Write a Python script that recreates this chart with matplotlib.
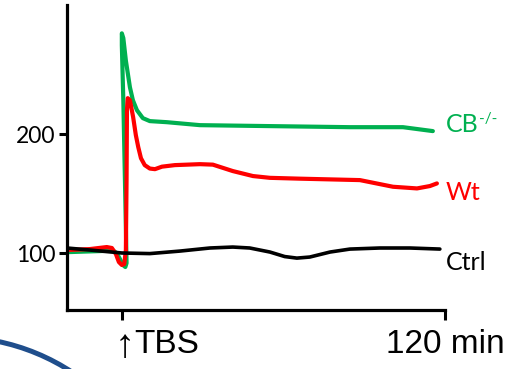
import matplotlib
matplotlib.use("Agg")
import matplotlib.pyplot as plt
from matplotlib.patches import Circle
from matplotlib.transforms import ScaledTranslation, blended_transform_factory

# traces: minutes relative to TBS, response in %
CB_T = [-20.4, -8.2, -3.3, -1.9, -0.7, 0.4, 1.3, 1.75, 1.3, 0.55, 0.0, 0.0, 0.55, 1.5,
        3.0, 4.1, 5.6, 7.8, 10.4, 16.7, 29, 55, 84.7, 104.4, 115.5]
CB_V = [101, 101.9, 102.3, 100.3, 95.2, 90.2, 88.5, 91.8, 144.8, 228.8, 275, 285, 281, 262,
        239.7, 228.8, 220.4, 213.7, 211.2, 210.3, 207.8, 207, 206.1, 206.1, 202.8]

WT_T = [-20.4, -11.9, -5.6, -3.7, -2.2, -1.1, 0.0, 0.9, 1.5, 1.75, 1.9, 2.2, 3.0, 4.2,
        5.2, 6.1, 7.1, 8.5, 10.4, 12.3, 14.9, 19.7, 29, 33.8, 41.2, 48.7, 55, 66.1,
        88.4, 100.7, 109.6, 114.4, 117]
WT_V = [102.8, 103.6, 105.3, 104.5, 99.4, 92.7, 90.2, 91, 102.8, 161.6, 220.4, 230.5, 228.8, 214.5,
        199.4, 189.3, 180, 174.2, 171.3, 170.8, 172.9, 174.2, 175, 174.6, 169.2, 165, 163.5, 162.8,
        161.6, 156, 154.6, 156.6, 158.8]

CTRL_T = [-20.4, -11.9, 0, 10.4, 21.5, 32.7, 41.2, 47.5, 55, 60.5, 65, 69.8, 77.3, 84.7,
          95.8, 107, 118.1]
CTRL_V = [104.5, 102.8, 100.3, 99.8, 101.9, 104.5, 105.3, 104.5, 101.1, 97.3, 96, 96.9, 101.1, 103.6,
          104.5, 104.5, 103.6]

Y_TICKS = [100, 200]
X_TICKS = [0, 120]
X_LABELS = ["TBS", "120 min"]

GREEN = "#00B050"
RED = "#FF0000"

fig = plt.figure(figsize=(5.31, 3.69), dpi=100)
ax = fig.add_axes([0.126, 0.160, 0.712, 0.826])

ax.plot(CB_T, CB_V, color=GREEN, lw=3, solid_joinstyle="round", solid_capstyle="round")
ax.plot(WT_T, WT_V, color=RED, lw=3, solid_joinstyle="round", solid_capstyle="round")
ax.plot(CTRL_T, CTRL_V, color="black", lw=2.6, solid_joinstyle="round", solid_capstyle="round")

ax.set_xlim(-20.4, 120)
ax.set_ylim(52.4, 308.7)
for s in ["top", "right"]:
    ax.spines[s].set_visible(False)
for s in ["left", "bottom"]:
    ax.spines[s].set_linewidth(2.3)

ax.set_yticks(Y_TICKS)
ax.set_yticklabels([str(v) for v in Y_TICKS], family="Lato", fontsize=16.5)
ax.tick_params(axis="y", length=6, width=2.2, pad=2)

ax.set_xticks(X_TICKS)
ax.set_xticklabels(X_LABELS, family="Liberation Sans", fontsize=24)
ax.tick_params(axis="x", length=7.5, width=2.2, pad=6)
tbs = ax.get_xticklabels()[0]
tbs.set_ha("left")
tbs.set_transform(tbs.get_transform() + ScaledTranslation(0.12, 0, fig.dpi_scale_trans))

# the stimulus arrow under the TBS tick
btrans = blended_transform_factory(ax.transData, ax.transAxes)
ax.text(0, 0, "\u2191", transform=btrans + ScaledTranslation(0.03, -0.47, fig.dpi_scale_trans),
        family=["Liberation Sans", "DejaVu Sans"], fontsize=29, ha="center", va="baseline")

lab = dict(family="Lato", fontsize=18, va="center", ha="left", clip_on=False)
cb = ax.text(120.3, 208, "CB", color=GREEN, **lab)
ax.annotate("-/-", xy=(1, 1), xycoords=cb, xytext=(0.5, 1), textcoords="offset points",
            color=GREEN, family="Lato", fontsize=11, ha="left", va="top")
ax.text(120.3, 151, "Wt", color=RED, **lab)
ax.text(120.3, 92, "Ctrl", color="black", **lab)

# slide decoration arc in the lower-left corner
fig.add_artist(Circle((-0.454, -1.82), 2.14, transform=fig.dpi_scale_trans,
                      fill=False, edgecolor="#1F4E8C", lw=3.6))

fig.savefig("out.png", dpi=100)
